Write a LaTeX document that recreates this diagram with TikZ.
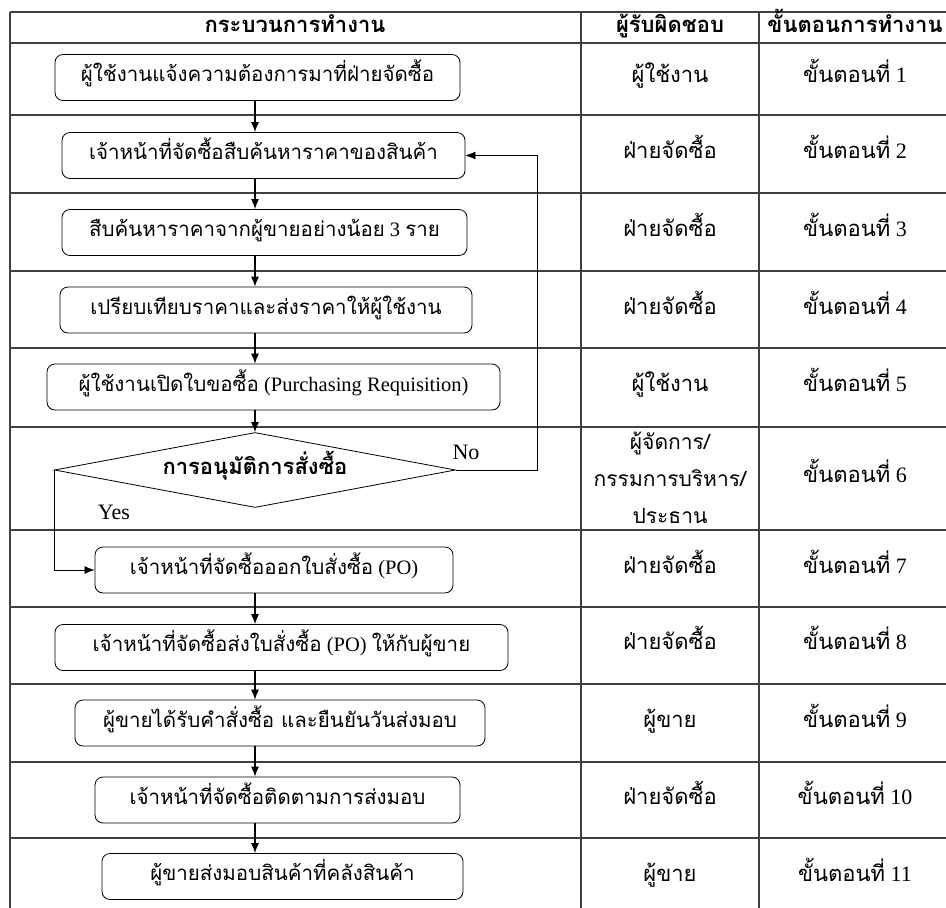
\documentclass[tikz,border=0pt]{standalone}
\usepackage{fontspec}
\setmainfont{Liberation Serif}
\newfontfamily\thfont[Script=Thai]{Loma}
\usetikzlibrary{arrows.meta}
\usetikzlibrary{shapes.geometric}
\tikzstyle{every node}=[inner sep=0pt, text=black]
\tikzstyle{procbox}=[draw=black, rounded corners=8pt, line width=0.8pt, minimum height=46pt, text height=14pt, text depth=6pt, font=\fontsize{20.5}{24}\selectfont]
\tikzstyle{decision}=[draw=black, diamond, line width=0.8pt, aspect=5.35, minimum width=401pt, minimum height=75pt, text height=14pt, text depth=6pt, font=\fontsize{22}{26}\selectfont\bfseries]
\tikzstyle{cell}=[text height=14pt, text depth=6pt, font=\fontsize{22}{26}\selectfont]
\tikzstyle{multicell}=[align=center, font=\fontsize{21}{37}\selectfont]
\tikzstyle{head}=[text height=14pt, text depth=6pt, font=\fontsize{22}{26}\selectfont\bfseries]
\tikzstyle{flow}=[-{Latex[length=10pt,width=8pt]}, line width=1.1pt]
\tikzstyle{loopflow}=[-{Latex[length=10pt,width=8pt]}, line width=0.7pt]
\tikzstyle{grid}=[line width=1.3pt, draw=black!75]

\begin{document}
\begin{tikzpicture}[x=1pt, y=-1pt]
    \useasboundingbox (0,0) rectangle (946,908);

    % Table lines
    \foreach \y in {12,43,115,193,271,348,427,530,607,684,762,838} {
        \draw[grid] (10,\y) -- (946,\y);
    }
    \foreach \x in {10,581,759} {
        \draw[grid] (\x,12) -- (\x,908);
    }

    % Header row
    \node[head] (h1) at (295,28) {\thfont กระบวนการทำงาน};
    \node[head] (h2) at (670,28) {\thfont ผู้รับผิดชอบ};
    \node[head] (h3) at (855,28) {\thfont ขั้นตอนการทำงาน};

    % Process boxes
    \node[procbox, minimum width=405pt] (b1) at (257.5,77.5) {\thfont ผู้ใช้งานแจ้งความต้องการมาที่ฝ่ายจัดซื้อ};
    \node[procbox, minimum width=403pt] (b2) at (263.5,155.5) {\thfont เจ้าหน้าที่จัดซื้อสืบค้นหาราคาของสินค้า};
    \node[procbox, minimum width=405pt] (b3) at (264.5,232.5) {{\thfont สืบค้นหาราคาจากผู้ขายอย่างน้อย} 3 {\thfont ราย}};
    \node[procbox, minimum width=412pt] (b4) at (266,310) {\thfont เปรียบเทียบราคาและส่งราคาให้ผู้ใช้งาน};
    \node[procbox, minimum width=453pt] (b5) at (273.5,387) {{\thfont ผู้ใช้งานเปิดใบขอซื้อ} (Purchasing Requisition)};
    \node[decision] (d6) at (255,470) {\thfont การอนุมัติการสั่งซื้อ};
    \node[procbox, minimum width=358pt] (b7) at (274,570) {{\thfont เจ้าหน้าที่จัดซื้อออกใบสั่งซื้อ} (PO)};
    \node[procbox, minimum width=453pt] (b8) at (281.5,647.5) {{\thfont เจ้าหน้าที่จัดซื้อส่งใบสั่งซื้อ} (PO) {\thfont ให้กับผู้ขาย}};
    \node[procbox, minimum width=410pt] (b9) at (280,723) {\thfont ผู้ขายได้รับคำสั่งซื้อ และยืนยันวันส่งมอบ};
    \node[procbox, minimum width=365pt] (b10) at (277.5,800) {\thfont เจ้าหน้าที่จัดซื้อติดตามการส่งมอบ};
    \node[procbox, minimum width=361pt] (b11) at (282.5,876.5) {\thfont ผู้ขายส่งมอบสินค้าที่คลังสินค้า};

    % Main flow
    \foreach \i/\j in {b1/b2,b2/b3,b3/b4,b4/b5,b5/d6,b7/b8,b8/b9,b9/b10,b10/b11} {
        \draw[flow] (\i.south -| d6.north) -- (\j.north -| d6.north);
    }

    % Decision branches
    \coordinate (noturn) at (537,470);
    \draw[loopflow] (d6.east) -- (noturn) |- (b2.east);
    \draw[loopflow] (d6.west) |- (b7.west);
    \node[cell] (no) at (466,455) {No};
    \node[cell] (yes) at (114,515) {Yes};

    % Responsible and step columns
    \foreach \y/\who/\n in {78/ผู้ใช้งาน/1, 154/ฝ่ายจัดซื้อ/2, 232/ฝ่ายจัดซื้อ/3, 310/ฝ่ายจัดซื้อ/4, 387/ผู้ใช้งาน/5, 569/ฝ่ายจัดซื้อ/7, 645/ฝ่ายจัดซื้อ/8, 723/ผู้ขาย/9, 800/ฝ่ายจัดซื้อ/10, 877/ผู้ขาย/11} {
        \node[cell] (r\n) at (670,\y) {\thfont \who};
        \node[cell] (s\n) at (855,\y) {{\thfont ขั้นตอนที่} \n};
    }
    \node[multicell] (r6) at (670,478) {\thfont ผู้จัดการ/\\\thfont กรรมการบริหาร/\\\thfont ประธาน};
    \node[cell] (s6) at (855,478) {{\thfont ขั้นตอนที่} 6};

\end{tikzpicture}
\end{document}
